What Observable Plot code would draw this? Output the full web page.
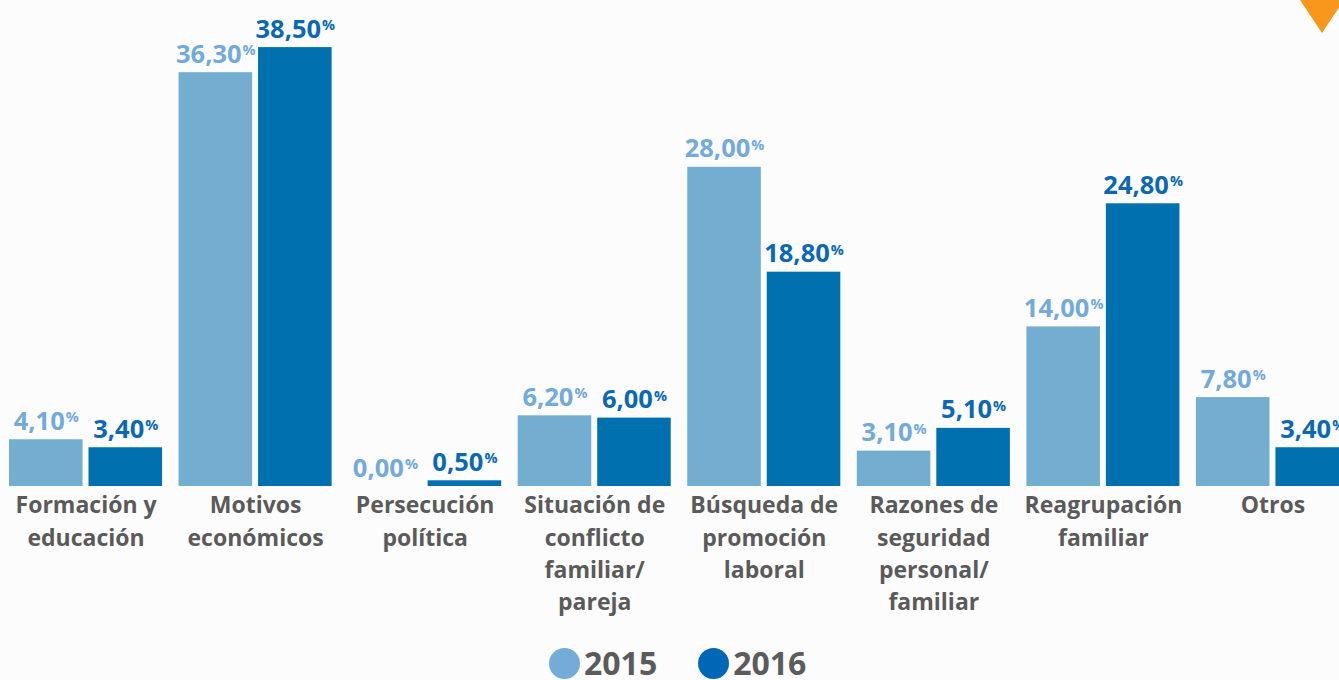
<!DOCTYPE html>
<html>
<head>
<meta charset="utf-8">
<script src="https://cdn.jsdelivr.net/npm/d3@7"></script>
<script src="https://cdn.jsdelivr.net/npm/@observablehq/plot@0.6"></script>
<style>
  html, body { margin: 0; padding: 0; overflow: hidden; background: #fcfcfc; width: 1339px; height: 680px; }
  #wrap { position: relative; width: 1339px; height: 680px; overflow: hidden; }
  #chart svg { display: block; background: transparent; max-width: none !important; }
  #tri { position: absolute; left: 1300px; top: 0; width: 0; height: 0;
         border-left: 22px solid transparent; border-right: 22px solid transparent;
         border-top: 33px solid #f7981d; }
  #legend { position: absolute; left: 549px; top: 647px; display: flex; align-items: center;
            font-family: "Open Sans", Lato, sans-serif; font-weight: 700; font-size: 32px; line-height: 32px; color: #5b5b5b; }
  .item { display: flex; align-items: center; margin-right: 41px; }
  .dot { width: 31px; height: 31px; border-radius: 50%; margin-right: 4px; }
</style>
</head>
<body>
<div id="wrap">
  <div id="chart"></div>
  <div id="tri"></div>
  <div id="legend"></div>
</div>
<script>
const categories = ["Formación y educación", "Motivos económicos", "Persecución política",
  "Situación de conflicto familiar/pareja", "Búsqueda de promoción laboral",
  "Razones de seguridad personal/familiar", "Reagrupación familiar", "Otros"];
const categoryLabels = ["Formación y\neducación", "Motivos\neconómicos", "Persecución\npolítica",
  "Situación de\nconflicto\nfamiliar/\npareja", "Búsqueda de\npromoción\nlaboral",
  "Razones de\nseguridad\npersonal/\nfamiliar", "Reagrupación\nfamiliar", "Otros"];
const years = ["2015", "2016"];
const values2015 = [4.1, 36.3, 0.0, 6.2, 28.0, 3.1, 14.0, 7.8];
const values2016 = [3.4, 38.5, 0.5, 6.0, 18.8, 5.1, 24.8, 3.4];

const barColors = {"2015": "#73aed0", "2016": "#0071ae"};
const labelColors = {"2015": "#72aadb", "2016": "#0a68b4"};
const legendColors = {"2015": "#74acd8", "2016": "#0067b6"};

const d2015 = categories.map((c, i) => ({category: c, year: "2015", value: values2015[i]}));
const d2016 = categories.map((c, i) => ({category: c, year: "2016", value: values2016[i]}));
const labelsData = categories.map((c, i) => ({category: c, label: categoryLabels[i]}));
const fmt = v => v.toFixed(2).replace(".", ",") + "%";

const half = 79.5;   // offset of each series bar inside a category band
const font = "'Open Sans', Lato, sans-serif";

const plot = Plot.plot({
  width: 1349,
  height: 640,
  marginLeft: 9,
  marginRight: 0,
  marginTop: 0,
  marginBottom: 0,
  style: {fontFamily: font, background: "transparent", overflow: "visible", maxWidth: "none"},
  x: {domain: categories, range: [9, 1349], paddingInner: 0.0973, paddingOuter: 0, round: false, axis: null},
  y: {domain: [0, 40], range: [486, 30], axis: null},
  marks: [
    Plot.barY(d2015, {x: "category", y: "value", fill: barColors["2015"], insetRight: half}),
    Plot.barY(d2016, {x: "category", y: "value", fill: barColors["2016"], insetLeft: half}),
    Plot.text(d2015, {x: "category", y: "value", text: d => fmt(d.value), dx: -39.75, dy: -10,
      lineAnchor: "bottom", fill: labelColors["2015"], fontSize: 25.5, fontWeight: 700}),
    Plot.text(d2016, {x: "category", y: "value", text: d => fmt(d.value), dx: 39.75, dy: -10,
      lineAnchor: "bottom", fill: labelColors["2016"], fontSize: 25.5, fontWeight: 700}),
    Plot.text(labelsData, {x: "category", y: () => 0, text: "label", lineAnchor: "top", dy: 4,
      lineHeight: 1.4, fill: "#5a5a5a", fontSize: 23, fontWeight: 700})
  ]
});
document.getElementById("chart").appendChild(plot);

// make the % sign a small superscript
plot.querySelectorAll("text").forEach(t => {
  if (t.children.length === 0 && /%$/.test(t.textContent)) {
    const s = t.textContent;
    t.textContent = s.slice(0, -1);
    const ts = document.createElementNS("http://www.w3.org/2000/svg", "tspan");
    ts.setAttribute("font-size", "14.5");
    ts.setAttribute("dy", "-7.5");
    ts.setAttribute("dx", "1");
    ts.textContent = "%";
    t.appendChild(ts);
  }
});

const legend = document.getElementById("legend");
years.forEach(y => {
  const item = document.createElement("div");
  item.className = "item";
  const dot = document.createElement("div");
  dot.className = "dot";
  dot.style.background = legendColors[y];
  const lab = document.createElement("span");
  lab.textContent = y;
  item.appendChild(dot);
  item.appendChild(lab);
  legend.appendChild(item);
});
</script>
</body>
</html>
